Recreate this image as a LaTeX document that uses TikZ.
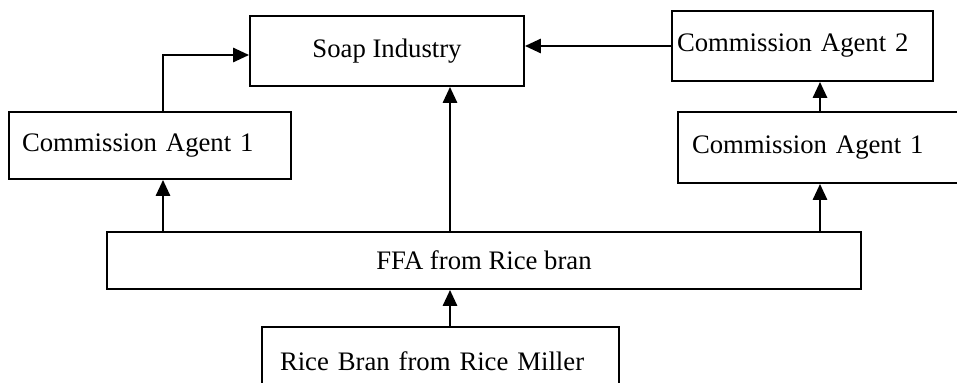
\documentclass[tikz,border=0pt]{standalone}
\usepackage{fontspec}
\setmainfont{Liberation Serif}
\usetikzlibrary{arrows.meta}

\begin{document}
\begin{tikzpicture}[
  box/.style = {draw, line width=1pt, font=\fontsize{15.2}{18}\selectfont},
  lbox/.style = {box, align=left, text width=#1},
  flow/.style = {line width=1.6pt, -{Triangle[length=0.32cm,width=0.28cm]}}]
\clip (0,0) rectangle (19.14,-7.66);

\node[box, minimum width=5.48cm, minimum height=1.4cm] (soap) at (7.74,-1.02) {Soap Industry};
\node[lbox=5.12cm, inner xsep=0.26cm, minimum height=1.34cm] (agentL) at (3.00,-2.91) {Commission Agent 1};
\node[lbox=5.02cm, inner xsep=0.1cm, minimum height=1.4cm] (agentB) at (16.05,-0.92) {Commission Agent 2};
\node[lbox=5.12cm, inner xsep=0.28cm, minimum height=1.42cm] (agentR) at (16.40,-2.95) {Commission Agent 1};
\node[box, minimum width=15.08cm, minimum height=1.14cm] (ffa) at (9.68,-5.21) {FFA from Rice bran};
\node[lbox=6.42cm, inner xsep=0.36cm, minimum height=1.36cm] (rice) at (8.81,-7.22) {Rice Bran from Rice Miller};

\draw[flow] ([xshift=0.19cm]rice.north) -- ([xshift=0.19cm]rice.north |- ffa.south);
\draw[flow] ([xshift=0.26cm]agentL.south |- ffa.north) -- ([xshift=0.26cm]agentL.south);
\draw[flow] ([xshift=1.26cm]soap.south |- ffa.north) -- ([xshift=1.26cm]soap.south);
\draw[flow] (agentR.south |- ffa.north) -- (agentR.south);
\draw[flow] ([xshift=0.26cm]agentL.north) |- ([yshift=-0.08cm]soap.west);
\draw[flow] (agentR.north) -- (agentR.north |- agentB.south);
\draw[flow] (agentB.west) -- (agentB.west -| soap.east);

\end{tikzpicture}
\end{document}
